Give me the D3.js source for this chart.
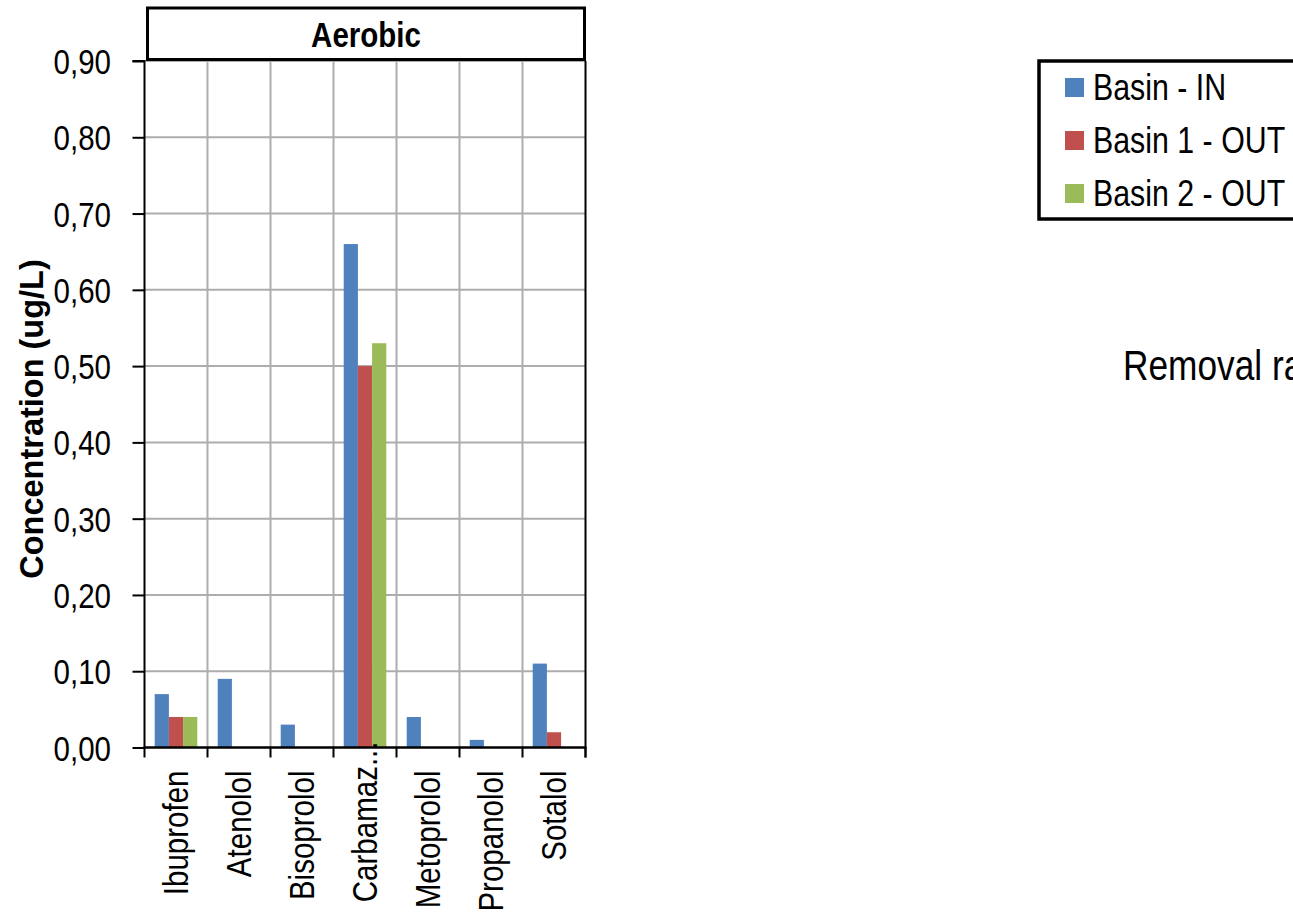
<!DOCTYPE html>
<html>
<head>
<meta charset="utf-8">
<script src="https://cdn.jsdelivr.net/npm/d3@7"></script>
<style>
  html, body { margin: 0; padding: 0; background: #fff; }
  svg { display: block; }
  text { font-family: "Liberation Sans", Arial, sans-serif; fill: #000; }
</style>
</head>
<body>
<svg id="chart" width="1293" height="913"></svg>
<script>
// ---- data ----
const categories = ["Ibuprofen", "Atenolol", "Bisoprolol", "Carbamaz...", "Metoprolol", "Propanolol", "Sotalol"];
const seriesNames = ["Basin - IN", "Basin 1 - OUT", "Basin 2 - OUT"];
const basinIn   = [0.07, 0.09, 0.03, 0.66, 0.04, 0.01, 0.11];
const basin1Out = [0.04, 0.00, 0.00, 0.50, 0.00, 0.00, 0.02];
const basin2Out = [0.04, 0.00, 0.00, 0.53, 0.00, 0.00, 0.00];
const yTicks = [0, 0.1, 0.2, 0.3, 0.4, 0.5, 0.6, 0.7, 0.8, 0.9];
const panelTitle = "Aerobic";
const yTitle = "Concentration (ug/L)";
const sideText = "Removal ra";
const colors = ["#4F81BD", "#C0504D", "#9BBB59"];

const seriesValues = [basinIn, basin1Out, basin2Out];
const NARROW = 0.82; // condensed face emulation

// ---- layout ----
const svg = d3.select("#chart");
const plot = { left: 144.5, right: 585.5, top: 61, bottom: 747.5 };

const x = d3.scaleBand().domain(categories).range([plot.left, plot.right]).paddingInner(0).paddingOuter(0);
const xs = d3.scaleBand().domain(seriesNames).range([0, x.bandwidth()]).paddingInner(0).paddingOuter(0.72);
const y = d3.scaleLinear().domain([0, 0.9]).range([plot.bottom, plot.top]);

function narrowText(g, tx, ty, str, size, anchor, weight, rot) {
  return g.append("text")
    .attr("transform", `translate(${tx},${ty})${rot ? ` rotate(${rot})` : ""} scale(${NARROW},1)`)
    .attr("text-anchor", anchor || "start")
    .attr("font-size", size)
    .attr("font-weight", weight || "normal")
    .text(str);
}

// gridlines horizontal
svg.append("g").selectAll("line").data(yTicks.filter(d => d > 0)).join("line")
  .attr("x1", plot.left).attr("x2", plot.right)
  .attr("y1", d => y(d)).attr("y2", d => y(d))
  .attr("stroke", "#ADADAD").attr("stroke-width", 2);

// gridlines vertical (category boundaries)
svg.append("g").selectAll("line").data(categories.slice(1)).join("line")
  .attr("x1", d => x(d)).attr("x2", d => x(d))
  .attr("y1", plot.top).attr("y2", plot.bottom)
  .attr("stroke", "#ADADAD").attr("stroke-width", 2);

// bars
const gBars = svg.append("g");
categories.forEach((c, i) => {
  seriesNames.forEach((s, j) => {
    const v = seriesValues[j][i];
    if (v <= 0) return;
    gBars.append("rect")
      .attr("x", x(c) + xs(s))
      .attr("width", xs.bandwidth())
      .attr("y", y(v))
      .attr("height", y(0) - y(v))
      .attr("fill", colors[j]);
  });
});

// right border line
svg.append("line").attr("x1", plot.right).attr("x2", plot.right)
  .attr("y1", plot.top).attr("y2", plot.bottom + 10)
  .attr("stroke", "#000").attr("stroke-width", 2);

// y axis
const fmt = d => d3.format(".2f")(d).replace(".", ",");
const yAxis = d3.axisLeft(y).tickValues(yTicks).tickSize(12).tickFormat("");
const gy = svg.append("g").attr("transform", `translate(${plot.left},0)`).call(yAxis);
gy.select(".domain").attr("stroke", "#000").attr("stroke-width", 2).attr("d", `M-12,${plot.top}H0V${plot.bottom}`);
gy.selectAll(".tick line").attr("stroke", "#000").attr("stroke-width", 2);
const gyl = svg.append("g");
yTicks.forEach(t => narrowText(gyl, 111, y(t) + 13, fmt(t), 36, "end"));

// x axis
const boundaries = categories.map(c => x(c)).concat([plot.right]);
const gx = svg.append("g");
gx.append("line").attr("x1", plot.left - 1).attr("x2", plot.right + 1)
  .attr("y1", plot.bottom).attr("y2", plot.bottom).attr("stroke", "#000").attr("stroke-width", 2.5);
gx.selectAll("line.tk").data(boundaries).join("line").attr("class", "tk")
  .attr("x1", d => d).attr("x2", d => d)
  .attr("y1", plot.bottom).attr("y2", plot.bottom + 10)
  .attr("stroke", "#000").attr("stroke-width", 2);

const labelTop = plot.bottom + 23;
const maxLen = 142;
categories.forEach(c => {
  const cx = x(c) + x.bandwidth() / 2 + 12;
  const t = narrowText(gx, cx, labelTop, c, 36, "end", "normal", -90);
  const len = t.node().getComputedTextLength() * NARROW;
  if (len > maxLen) {
    // truncated label: overflows upward past the axis, as in the source
    t.attr("transform", `translate(${cx},${plot.bottom - 6}) rotate(-90) scale(${NARROW},1)`);
  }
});

// panel title box
svg.append("rect").attr("x", 147.5).attr("y", 8).attr("width", 437).attr("height", 51.5)
  .attr("fill", "#fff").attr("stroke", "#000").attr("stroke-width", 3);
narrowText(svg, 366, 47, panelTitle, 36, "middle", "bold");

// y title
svg.append("text")
  .attr("transform", `translate(43,419) rotate(-90)`)
  .attr("text-anchor", "middle").attr("font-size", 32.5).attr("font-weight", "bold")
  .text(yTitle);

// legend
const lg = svg.append("g");
lg.append("rect").attr("x", 1039).attr("y", 61).attr("width", 280).attr("height", 158)
  .attr("fill", "#fff").attr("stroke", "#000").attr("stroke-width", 3.5);
seriesNames.forEach((s, j) => {
  const yy = 78 + j * 53;
  lg.append("rect").attr("x", 1065).attr("y", yy).attr("width", 19).attr("height", 19).attr("fill", colors[j]);
  narrowText(lg, 1093, yy + 22, s, 37, "start");
});

// side text (cut by the right edge in the source)
narrowText(svg, 1123, 380, sideText, 43, "start");
</script>
</body>
</html>
